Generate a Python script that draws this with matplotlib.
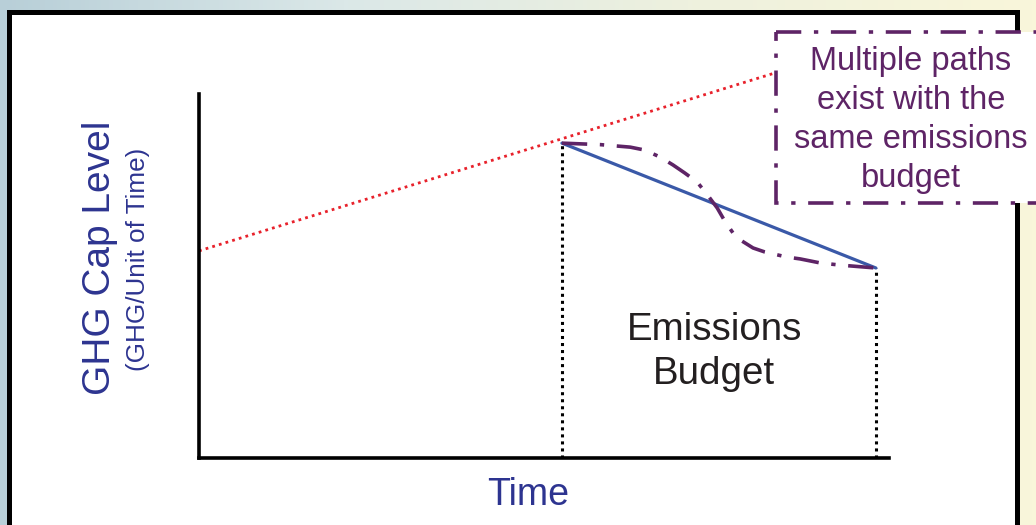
import numpy as np
import matplotlib
matplotlib.use("Agg")
import matplotlib.pyplot as plt
from matplotlib.patches import Rectangle

plt.rcParams['font.family'] = ['Liberation Sans', 'DejaVu Sans']

# data (time and cap level on a 0-100 scale)
bau_time = [0, 83.5]
bau_level = [56.9, 105.8]
budget_time = [52.6, 98.1]
budget_level = [86.5, 52.2]
alt_time = [52.6, 58.1, 62.5, 64.6, 66.8, 68.7, 70.4, 72.2, 73.6, 75.1,
            76.2, 77.4, 78.7, 80.3, 82.0, 85.2, 87.1, 90.0, 92.9, 98.1]
alt_level = [86.5, 86.1, 85.4, 84.6, 82.7, 80.5, 78.3, 75.8, 72.5, 68.7,
             65.1, 61.8, 59.6, 57.7, 56.6, 55.2, 54.7, 53.6, 53.0, 52.2]

callout_lines = ["Multiple paths", "exist with the", "same emissions", "budget"]

W, H = 1036, 525
fig = plt.figure(figsize=(W / 100, H / 100), dpi=100)

navy = '#2d3490'
purple = '#5e2466'

# slide background
bg = fig.add_axes([0, 0, 1, 1], zorder=0)
bg.set_xlim(0, W)
bg.set_ylim(H, 0)
bg.axis('off')
grad = np.linspace(0, 1, 256).reshape(1, -1)
cmap = matplotlib.colors.LinearSegmentedColormap.from_list(
    'bg', ['#b8cfd8', '#dbe8e8', '#eef1de', '#f9f6da'])
bg.imshow(grad, extent=[0, W, H, 0], aspect='auto', cmap=cmap)
bg.add_patch(Rectangle((8.5, 11.5), 1008, 540, facecolor='white',
                       edgecolor='black', linewidth=3.6))

# main chart
ax = fig.add_axes([199 / W, (H - 458) / H, 690 / W, 364 / H], zorder=2)
ax.patch.set_visible(False)
ax.set_xlim(0, 100)
ax.set_ylim(0, 100)
for s in ['top', 'right']:
    ax.spines[s].set_visible(False)
for s in ['left', 'bottom']:
    ax.spines[s].set_linewidth(2.6)
    ax.spines[s].set_color('black')
ax.set_xticks([])
ax.set_yticks([])

ax.plot(bau_time, bau_level, color='#e8212b', lw=2.0,
        linestyle=(0, (1, 1.5)), clip_on=False)
ax.plot([budget_time[0]] * 2, [0, budget_level[0]], color='black', lw=2.2,
        linestyle=(0, (1, 1.3)))
ax.plot([budget_time[1]] * 2, [0, budget_level[1]], color='black', lw=2.2,
        linestyle=(0, (1, 1.3)))
ax.plot(budget_time, budget_level, color='#3a59a8', lw=2.3,
        solid_capstyle='round')
ax.plot(alt_time, alt_level, color=purple, lw=2.6,
        linestyle=(0, (7, 3.5, 1.2, 3.5)))

ax.text(74.7, (458 - 340) / 3.64, 'Emissions', ha='center', va='baseline',
        fontsize=27.7, color='#231f20')
ax.text(74.7, (458 - 384) / 3.64, 'Budget', ha='center', va='baseline',
        fontsize=27.7, color='#231f20')

fig.text(528 / W, (H - 505) / H, 'Time', ha='center', va='baseline',
         fontsize=27, color=navy)
fig.text(100 / W, 1 - 258 / H, 'GHG Cap Level', rotation=90, ha='center',
         va='center', fontsize=28, color=navy)
fig.text(137.5 / W, 1 - 259 / H, '(GHG/Unit of Time)', rotation=90,
         ha='center', va='center', fontsize=18.8, color=navy)

# callout
ov = fig.add_axes([0, 0, 1, 1], zorder=3)
ov.set_xlim(0, W)
ov.set_ylim(H, 0)
ov.axis('off')
ov.patch.set_visible(False)
ov.add_patch(Rectangle((776, 32), 300, 171, facecolor='white',
                       edgecolor=purple, linewidth=2.6,
                       linestyle=(0, (7, 3.5, 1.2, 3.5)), clip_on=False))
for i, line in enumerate(callout_lines):
    ov.text(911, 70 + 39 * i, line, ha='center', va='baseline',
            fontsize=23.5, color=purple)

fig.savefig('out.png', dpi=100)
